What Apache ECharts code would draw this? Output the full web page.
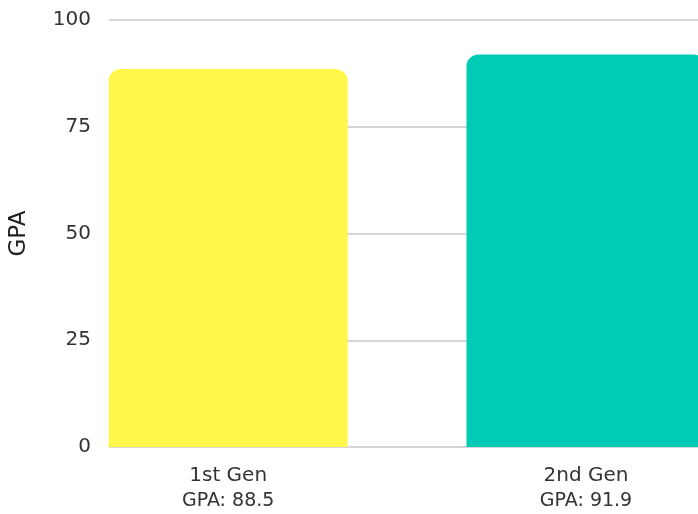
<!DOCTYPE html>
<html>
<head>
<meta charset="utf-8">
<script src="https://cdn.jsdelivr.net/npm/echarts@6/dist/echarts.min.js"></script>
<style>
  html, body { margin: 0; padding: 0; background: #fff; }
  #chart { width: 698px; height: 514px; }
</style>
</head>
<body>
<div id="chart"></div>
<script>
const categories = ['1st Gen', '2nd Gen'];
const gpaValues = [88.5, 91.9];
const barColors = ['#FFF84A', '#00CBB5'];
const yTicks = [0, 25, 50, 75, 100];

const font = '"DejaVu Sans", sans-serif';
const chart = echarts.init(document.getElementById('chart'));

// the plot is cut off on the right (2nd bar runs past the edge),
// so x is a value axis over category positions with a shifted range
const xMin = -0.333;
const xMax = 1.313;
const xPos = categories.map(function (c, i) { return i; });

chart.setOption({
  animation: false,
  grid: { left: 107, right: 0, top: 20, bottom: 67 },
  xAxis: {
    type: 'value',
    min: xMin,
    max: xMax,
    axisLine: { show: false },
    axisTick: { show: false },
    splitLine: { show: false },
    axisLabel: {
      customValues: xPos,
      margin: 16,
      fontFamily: font,
      formatter: function (v) {
        const i = Math.round(v);
        return '{a|' + categories[i] + '}\n{b|GPA: ' + gpaValues[i] + '}';
      },
      rich: {
        a: { fontSize: 20, color: '#333', fontFamily: font, lineHeight: 26 },
        b: { fontSize: 19, color: '#333', fontFamily: font, lineHeight: 24 }
      }
    }
  },
  yAxis: {
    type: 'value',
    min: yTicks[0],
    max: yTicks[yTicks.length - 1],
    interval: 25,
    name: 'GPA',
    nameLocation: 'middle',
    nameGap: 78,
    nameTextStyle: { fontSize: 23, color: '#222', fontFamily: font },
    axisLine: { show: false },
    axisTick: { show: false },
    axisLabel: { fontSize: 20, color: '#333', fontFamily: font, margin: 18 },
    splitLine: { lineStyle: { color: '#c8c8c8', width: 1.5 } }
  },
  series: [
    {
      type: 'bar',
      barWidth: 239,
      data: gpaValues.map(function (v, i) {
        return { value: [xPos[i], v], itemStyle: { color: barColors[i] } };
      }),
      itemStyle: { borderRadius: [12, 12, 0, 0] }
    }
  ]
});
</script>
</body>
</html>
